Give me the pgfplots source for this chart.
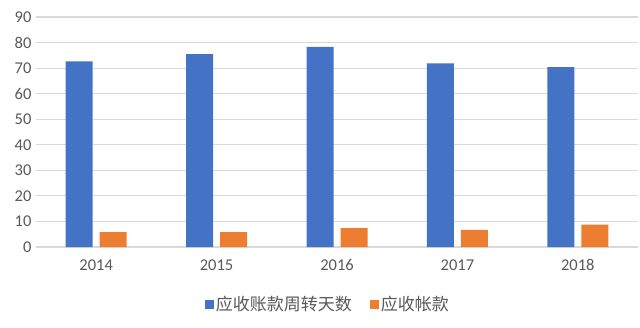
\documentclass[border=0pt]{standalone}
\usepackage{pgfplots}
\pgfplotsset{compat=1.18}
\usepackage{fontspec}
\setmainfont{Carlito}
\newfontfamily\cjk{Noto Sans CJK SC}
\definecolor{cblue}{HTML}{4472C4}
\definecolor{corange}{HTML}{ED7D31}
\definecolor{cgrid}{HTML}{D9D9D9}
\definecolor{ctext}{HTML}{595959}
\begin{document}
\begin{tikzpicture}[x=1pt,y=1pt]
\path[use as bounding box] (-36,-80) rectangle (604,247);
\begin{axis}[
  at={(0,0)}, anchor=south west,
  scale only axis, width=602pt, height=230pt,
  xmin=-0.5, xmax=4.5, ymin=0, ymax=90,
  ytick={0,10,...,90},
  xtick={0,1,2,3,4},
  xticklabels={2014,2015,2016,2017,2018},
  ymajorgrids, grid style={cgrid, line width=1.2pt},
  axis line style={draw=none},
  major tick length=0pt,
  tick label style={font=\fontsize{16.5}{18}\selectfont, text=ctext},
  /pgf/number format/assume math mode=true,
  yticklabel style={xshift=-1pt},
  xticklabel style={yshift=-9pt},
  ybar, bar width=27pt,
  legend style={draw=none, at={(0.485,-0.25)}, anchor=center,
    font=\cjk\fontsize{17}{19}\selectfont, text=ctext,
    /tikz/every even column/.append style={column sep=16pt}},
  legend columns=2,
  legend image code/.code={\fill[#1] (0pt,-4pt) rectangle (9pt,5pt);},
]
\addplot[fill=cblue, draw=none, bar shift=-17pt] coordinates {(0,72.6) (1,75.5) (2,78.3) (3,71.9) (4,70.4)};
\addplot[fill=corange, draw=none, bar shift=17pt] coordinates {(0,5.8) (1,5.8) (2,7.4) (3,6.7) (4,8.8)};
\legend{应收账款周转天数, 应收帐款}
\end{axis}
\end{tikzpicture}
\end{document}
